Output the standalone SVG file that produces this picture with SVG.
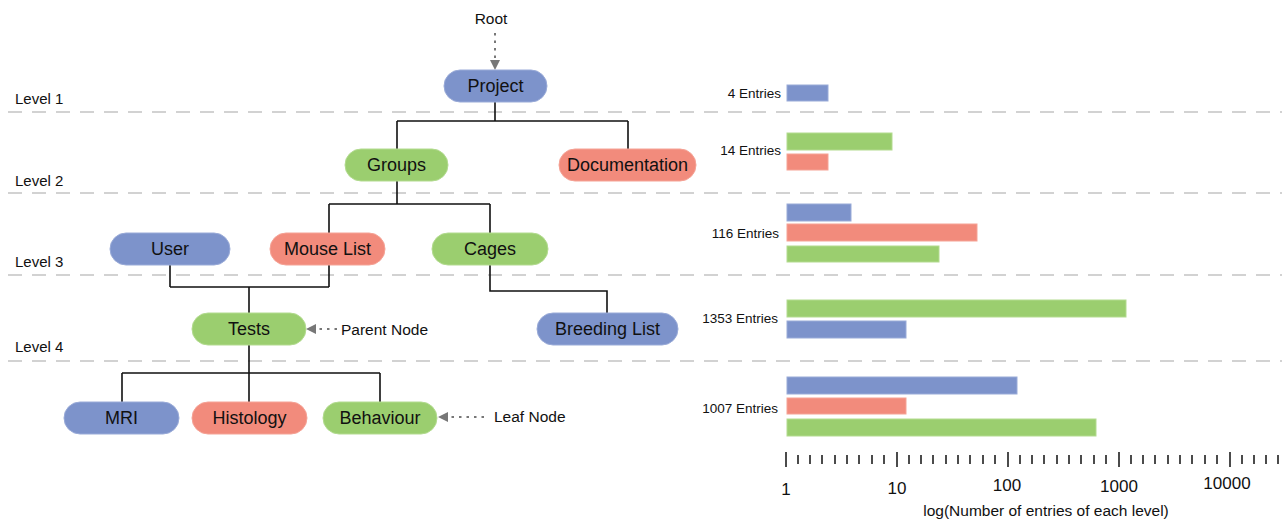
<svg xmlns="http://www.w3.org/2000/svg" width="1282" height="519" viewBox="0 0 1282 519">
<defs>
<style>
text{font-family:"Liberation Sans",Arial,sans-serif;fill:#111}
.n{font-size:18px;text-anchor:middle}
.lv{font-size:15px}
.en{font-size:13.5px;text-anchor:end}
.ax{font-size:17px;text-anchor:middle}
.lb{font-size:15.5px}
.blue{fill:#7d93cb;stroke:#9aabd8;stroke-width:1}
.red{fill:#f28b7c;stroke:#f5a396;stroke-width:1}
.green{fill:#9bce6f;stroke:#b3db90;stroke-width:1}
.dash{stroke:#c4c4c4;stroke-width:1.5;stroke-dasharray:14 10;fill:none}
.edge{stroke:#111;stroke-width:1.6;fill:none}
.dot{stroke:#777;stroke-width:2;stroke-dasharray:2.5 5;fill:none}
.tick{stroke:#111;stroke-width:1.5}
</style>
<marker id="ah" viewBox="0 0 10 10" refX="9" refY="5" markerWidth="10" markerHeight="10" markerUnits="userSpaceOnUse" orient="auto">
<path d="M0,0 L10,5 L0,10 z" fill="#777"/>
</marker>
</defs>
<rect width="1282" height="519" fill="#fff"/>

<g id="levels">
<line class="dash" x1="8" y1="112" x2="1282" y2="112"/>
<line class="dash" x1="8" y1="193" x2="1282" y2="193"/>
<line class="dash" x1="8" y1="275" x2="1282" y2="275"/>
<line class="dash" x1="8" y1="361" x2="1282" y2="361"/>
<text class="lv" x="15" y="104">Level 1</text>
<text class="lv" x="15" y="186">Level 2</text>
<text class="lv" x="15" y="267">Level 3</text>
<text class="lv" x="15" y="352">Level 4</text>
</g>

<g id="connectors">
<path class="edge" d="M495,102 V121 M397,121 H628 M397,121 V149 M628,121 V149"/>
<path class="edge" d="M397,181 V204 M329,204 H490 M329,204 V233 M490,204 V233"/>
<path class="edge" d="M170,265 V287 M329,265 V287 M170,287 H329 M249,287 V313"/>
<path class="edge" d="M490,265 V291 H607 V313"/>
<path class="edge" d="M249,345 V402 M122,373 H380 M122,373 V402 M380,373 V402"/>
<line class="dot" x1="495" y1="33" x2="495" y2="69" marker-end="url(#ah)"/>
<line class="dot" x1="337" y1="329" x2="307" y2="329" marker-end="url(#ah)"/>
<line class="dot" x1="484" y1="417" x2="439" y2="417" marker-end="url(#ah)"/>
</g>

<g id="root"><text class="lb" x="491" y="24" text-anchor="middle">Root</text></g>
<g id="parent-label"><text class="lb" x="341" y="335">Parent Node</text></g>
<g id="leaf-label"><text class="lb" x="494" y="422">Leaf Node</text></g>

<g id="project"><rect class="blue" x="444" y="70" width="103" height="32" rx="16"/><text class="n" x="495.5" y="92">Project</text></g>
<g id="groups"><rect class="green" x="345" y="149" width="103" height="32" rx="16"/><text class="n" x="396.5" y="171">Groups</text></g>
<g id="documentation"><rect class="red" x="559" y="149" width="137" height="32" rx="16"/><text class="n" x="627.5" y="171">Documentation</text></g>
<g id="user"><rect class="blue" x="110" y="233" width="120" height="32" rx="16"/><text class="n" x="170" y="255">User</text></g>
<g id="mouse-list"><rect class="red" x="270" y="233" width="115" height="32" rx="16"/><text class="n" x="327.5" y="255">Mouse List</text></g>
<g id="cages"><rect class="green" x="432" y="233" width="116" height="32" rx="16"/><text class="n" x="490" y="255">Cages</text></g>
<g id="tests"><rect class="green" x="192" y="313" width="114" height="32" rx="16"/><text class="n" x="249" y="335">Tests</text></g>
<g id="breeding-list"><rect class="blue" x="537" y="313" width="141" height="32" rx="16"/><text class="n" x="607.5" y="335">Breeding List</text></g>
<g id="mri"><rect class="blue" x="64" y="402" width="115" height="32" rx="16"/><text class="n" x="121.5" y="424">MRI</text></g>
<g id="histology"><rect class="red" x="192" y="402" width="115" height="32" rx="16"/><text class="n" x="249.5" y="424">Histology</text></g>
<g id="behaviour"><rect class="green" x="323" y="402" width="114" height="32" rx="16"/><text class="n" x="380" y="424">Behaviour</text></g>

<g id="chart">
<text class="en" x="781" y="98">4 Entries</text>
<rect class="blue" x="787" y="85" width="41" height="16"/>
<text class="en" x="781" y="155">14 Entries</text>
<rect class="green" x="787" y="133" width="105" height="17"/>
<rect class="red" x="787" y="154" width="41" height="16"/>
<text class="en" x="779" y="238">116 Entries</text>
<rect class="blue" x="787" y="204" width="64" height="17"/>
<rect class="red" x="787" y="224" width="190" height="17"/>
<rect class="green" x="787" y="246" width="152" height="16"/>
<text class="en" x="778" y="323">1353 Entries</text>
<rect class="green" x="787" y="300" width="339" height="17"/>
<rect class="blue" x="787" y="321" width="119" height="17"/>
<text class="en" x="778" y="413">1007 Entries</text>
<rect class="blue" x="787" y="377" width="230" height="17"/>
<rect class="red" x="787" y="398" width="119" height="16"/>
<rect class="green" x="787" y="419" width="309" height="17"/>
</g>

<g id="axis">
<path class="tick" d="M786,452V467 M897,452V467 M1008,452V467 M1119,452V467 M1230,452V467"/>
<path class="tick" d="M798,455V464 M810,455V464 M822,455V464 M835,455V464 M847,455V464 M859,455V464 M872,455V464 M884,455V464
M909,455V464 M921,455V464 M933,455V464 M946,455V464 M958,455V464 M970,455V464 M983,455V464 M995,455V464
M1020,455V464 M1032,455V464 M1044,455V464 M1057,455V464 M1069,455V464 M1081,455V464 M1094,455V464 M1106,455V464
M1131,455V464 M1143,455V464 M1155,455V464 M1168,455V464 M1180,455V464 M1192,455V464 M1205,455V464 M1217,455V464
M1242,455V464 M1254,455V464 M1266,455V464 M1278,455V464"/>
<text class="ax" x="786" y="495">1</text>
<text class="ax" x="897" y="494">10</text>
<text class="ax" x="1007" y="491">100</text>
<text class="ax" x="1119" y="492">1000</text>
<text class="ax" x="1227" y="489">10000</text>
<text class="lb" x="1046" y="516" text-anchor="middle">log(Number of entries of each level)</text>
</g>
</svg>
